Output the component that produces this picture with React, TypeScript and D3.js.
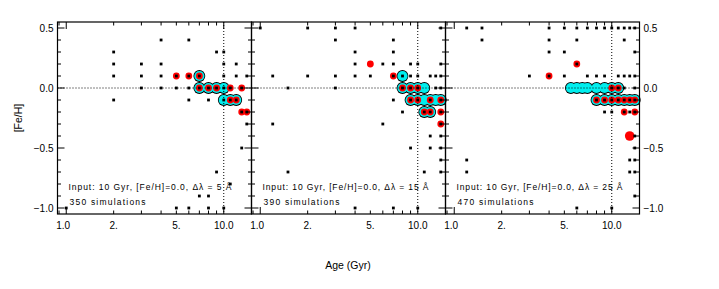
import React, { useEffect, useRef } from 'react';
import * as d3 from 'd3';

// tick labels
const ageTicks = [1, 2, 5, 10];
const ageTickLabels = ['1.0', '2.', '5.', '10.0'];
const fehTicks = [0.5, 0.0, -0.5, -1.0];
const fehTickLabels = ['0.5', '0.0', '\u22120.5', '\u22121.0'];

// panel annotations
const dLambda = [5, 15, 25];
const nSims = [350, 390, 470];

// [age (Gyr), [Fe/H]]
const black1 = [
  [2, 0.3], [2, 0.2], [2, 0.1], [2, -0.1],
  [3, 0.2], [3, 0.1], [3, 0.0],
  [4, 0.4], [4, 0.2], [4, 0.1], [4, 0.0],
  [5, 0.1], [5, 0.0], [6, 0.4], [6, 0.1], [6, 0.0], [6, -0.1],
  [7, 0.1], [7, 0.0], [8, 0.0], [8, -0.1], [9, 0.3], [9, 0.0],
  [10, 0.3], [10, 0.2], [10, 0.1], [10, 0.0], [10, -0.1],
  [11, 0.0], [11, -0.1], [12, 0.2], [12, 0.1], [12, -0.1],
  [13, 0.0], [14, 0.1], [13, -0.2], [14, -0.2], [14, -0.3],
  [13, -0.5], [9, -0.7], [11, -0.8], [7, -0.9], [8, -0.9],
  [1, -1.0], [5, -1.0], [6, -1.0], [8, -1.0], [10, -1.0],
];
const red1 = [
  [5, 0.1], [6, 0.1], [7, 0.1], [7, 0.0], [8, 0.0], [9, 0.0], [11, 0.0], [13, 0.0],
  [11, -0.1], [12, -0.1], [13, -0.2], [14, -0.2],
];
const cyan1 = [
  [7, 0.1], [7, 0.0], [8, 0.0], [9, 0.0], [10, 0.0], [10, -0.1], [11, -0.1], [12, -0.1],
];

const black2 = [
  [1, 0.5], [2, 0.5], [3, 0.5], [4, 0.5], [14, 0.5],
  [3, 0.4], [7, 0.4], [4, 0.3], [7, 0.3],
  [4, 0.2], [6, 0.2], [7, 0.2], [9, 0.2], [10, 0.2], [14, 0.2],
  [1.2, 0.1], [2, 0.1], [3, 0.1], [4, 0.1], [5, 0.1], [7, 0.1], [8, 0.1], [9, 0.1], [10, 0.1],
  [12, 0.1], [13, 0.1], [14, 0.1],
  [1.5, 0.0], [3, 0.0], [8, 0.0], [9, 0.0], [10, 0.0], [13, 0.0], [14, 0.0],
  [7, -0.1], [9, -0.1], [10, -0.1], [12, -0.1], [14, -0.1],
  [8, -0.2], [11, -0.2], [12, -0.2], [14, -0.2],
  [1.2, -0.3], [6, -0.3], [14, -0.3],
  [12, -0.4], [14, -0.4], [9, -0.5], [12, -0.5], [14, -0.5], [14, -0.6],
  [1.5, -0.7], [11, -0.7], [14, -0.7],
  [4, -1.0], [7, -1.0], [10, -1.0],
];
const red2 = [
  [5, 0.2], [7, 0.1], [8, 0.0], [9, 0.0], [10, 0.0],
  [9, -0.1], [10, -0.1], [12, -0.1], [14, -0.1],
  [11, -0.2], [12, -0.2], [14, -0.2], [14, -0.3],
];
const cyan2 = [
  [8, 0.1], [8, 0.0], [9, 0.0], [10, 0.0], [11, 0.0],
  [9, -0.1], [10, -0.1], [11, -0.1], [12, -0.1], [13, -0.1], [14, -0.1],
  [11, -0.2], [12, -0.2],
];

const black3 = [
  [1.2, 0.5], [1.5, 0.5], [4, 0.5], [5, 0.5], [6, 0.5], [7, 0.5], [8, 0.5], [9, 0.5],
  [10, 0.5], [11, 0.5], [12, 0.5], [13, 0.5], [14, 0.5],
  [1.5, 0.4], [4, 0.4], [6, 0.4], [12, 0.4],
  [4, 0.3], [5, 0.3], [14, 0.3], [6, 0.2],
  [3, 0.1], [4, 0.1], [5, 0.1], [7, 0.1], [8, 0.1], [9, 0.1], [11, 0.1], [12, 0.1], [13, 0.1], [14, 0.1],
  [10, 0.0], [11, 0.0], [12, 0.0], [14, 0.0],
  [8, -0.1], [9, -0.1], [10, -0.1], [11, -0.1], [12, -0.1], [13, -0.1], [14, -0.1],
  [9, -0.2], [10, -0.2], [12, -0.2], [13, -0.2], [14, -0.2],
  [14, -0.4], [14, -0.5], [1.2, -0.6], [13, -0.6], [14, -0.6],
  [1.2, -0.7], [13, -0.7], [14, -0.7], [14, -0.9],
  [6, -1.0], [10, -1.0],
];
const red3 = [
  [6, 0.2], [4, 0.1], [10, 0.0], [11, 0.0],
  [8, -0.1], [9, -0.1], [10, -0.1], [11, -0.1], [12, -0.1], [13, -0.1], [14, -0.1],
  [12, -0.2], [14, -0.2],
];
const bigRed3 = [[13, -0.4]];
const cyan3 = [
  [5.5, 0.0], [6, 0.0], [6.5, 0.0], [7, 0.0], [8, 0.0], [9, 0.0], [10, 0.0], [11, 0.0],
  [8, -0.1], [9, -0.1], [10, -0.1], [11, -0.1], [12, -0.1], [13, -0.1], [14, -0.1],
];

const panels = [
  { black: black1, red: red1, bigRed: [], cyan: cyan1 },
  { black: black2, red: red2, bigRed: [], cyan: cyan2 },
  { black: black3, red: red3, bigRed: bigRed3, cyan: cyan3 },
];

const FONT = 'Liberation Sans, Arial, sans-serif';

export default function App() {
  const ref = useRef(null);

  useEffect(() => {
    const svg = d3.select(ref.current);
    svg.selectAll('*').remove();

    var left0 = 57.5, pw = 194, top = 22, bottom = 214;
    var y = d3.scaleLinear().domain([-1.05, 0.55]).range([bottom, top]);
    var yMinor = d3.range(-10, 6).map(function (i) { return i / 10; });

    panels.forEach(function (p, i) {
      var left = left0 + i * pw;
      var right = left + pw;
      var x = d3.scaleLog().domain([0.88, 15]).range([left, right]);
      var g = svg.append('g');

      // cyan blobs with thin black outline
      g.selectAll('.cyanOut').data(p.cyan).enter().append('circle')
        .attr('cx', d => x(d[0])).attr('cy', d => y(d[1])).attr('r', 5.9).attr('fill', '#000');
      g.selectAll('.cyanIn').data(p.cyan).enter().append('circle')
        .attr('cx', d => x(d[0])).attr('cy', d => y(d[1])).attr('r', 5.1).attr('fill', '#00eeee');
      // red points
      g.selectAll('.red').data(p.red).enter().append('circle')
        .attr('cx', d => x(d[0])).attr('cy', d => y(d[1])).attr('r', 3.4).attr('fill', '#ff0000');
      g.selectAll('.bigred').data(p.bigRed).enter().append('circle')
        .attr('cx', d => x(d[0])).attr('cy', d => y(d[1])).attr('r', 4.8).attr('fill', '#ff0000');

      // reference lines
      g.append('line').attr('x1', left).attr('x2', right).attr('y1', y(0)).attr('y2', y(0))
        .attr('stroke', '#000').attr('stroke-dasharray', '1,2');
      g.append('line').attr('x1', x(10)).attr('x2', x(10)).attr('y1', top).attr('y2', bottom)
        .attr('stroke', '#000').attr('stroke-dasharray', '1,2');

      // black points
      g.selectAll('.blk').data(p.black).enter().append('rect')
        .attr('x', d => x(d[0]) - 1.4).attr('y', d => y(d[1]) - 1.4)
        .attr('width', 2.8).attr('height', 2.8).attr('fill', '#000');

      // frame
      g.append('rect').attr('x', left).attr('y', top).attr('width', pw).attr('height', bottom - top)
        .attr('fill', 'none').attr('stroke', '#000').attr('stroke-width', 1.2);

      // y ticks, both sides, inward
      yMinor.forEach(function (v) {
        var major = Math.abs(v * 2 - Math.round(v * 2)) < 1e-6;
        var len = major ? 7 : 3.5;
        g.append('line').attr('x1', left).attr('x2', left + len).attr('y1', y(v)).attr('y2', y(v)).attr('stroke', '#000');
        g.append('line').attr('x1', right).attr('x2', right - len).attr('y1', y(v)).attr('y2', y(v)).attr('stroke', '#000');
      });
      // x ticks, top and bottom
      x.ticks().forEach(function (v) {
        var len = (v === 1 || v === 10) ? 7 : 3.5;
        g.append('line').attr('x1', x(v)).attr('x2', x(v)).attr('y1', bottom).attr('y2', bottom - len).attr('stroke', '#000');
        g.append('line').attr('x1', x(v)).attr('x2', x(v)).attr('y1', top).attr('y2', top + len).attr('stroke', '#000');
      });

      // x tick labels
      ageTicks.forEach(function (v, k) {
        g.append('text').attr('x', x(v) - (v === 1 ? 3 : 0)).attr('y', 229).attr('text-anchor', 'middle')
          .attr('font-family', FONT).attr('font-size', 10).attr('fill', '#000').text(ageTickLabels[k]);
      });

      // annotations
      g.append('text').attr('x', left + 11).attr('y', 190).attr('font-family', FONT).attr('font-size', 8.5)
        .attr('textLength', i === 0 ? 163 : 166).attr('lengthAdjust', 'spacing').attr('fill', '#000')
        .text('Input: 10 Gyr,  [Fe/H]=0.0,  \u0394\u03bb = ' + dLambda[i] + ' \u00c5');
      g.append('text').attr('x', left + 12).attr('y', 205).attr('font-family', FONT).attr('font-size', 8.5)
        .attr('textLength', 76).attr('lengthAdjust', 'spacing').attr('fill', '#000')
        .text(nSims[i] + '  simulations');
    });

    // y tick labels, left of first panel and right of last panel
    var rightEdge = left0 + 3 * pw;
    fehTicks.forEach(function (v, k) {
      svg.append('text').attr('x', left0 - 4).attr('y', y(v) + 3.5).attr('text-anchor', 'end')
        .attr('font-family', FONT).attr('font-size', 10).attr('fill', '#000').text(fehTickLabels[k]);
      svg.append('text').attr('x', rightEdge + 4).attr('y', y(v) + 3.5).attr('text-anchor', 'start')
        .attr('font-family', FONT).attr('font-size', 10).attr('fill', '#000').text(fehTickLabels[k]);
    });

    // axis titles
    svg.append('text').attr('x', 348).attr('y', 269).attr('text-anchor', 'middle')
      .attr('font-family', FONT).attr('font-size', 10.5).attr('fill', '#000').text('Age (Gyr)');
    svg.append('text').attr('transform', 'translate(22,118) rotate(-90)').attr('text-anchor', 'middle')
      .attr('font-family', FONT).attr('font-size', 10.5).attr('fill', '#000').text('[Fe/H]');
  }, []);

  return (
    <svg ref={ref} width={719} height={289} style={{ position: 'absolute', left: 0, top: 0, background: '#fff' }}></svg>
  );
}
